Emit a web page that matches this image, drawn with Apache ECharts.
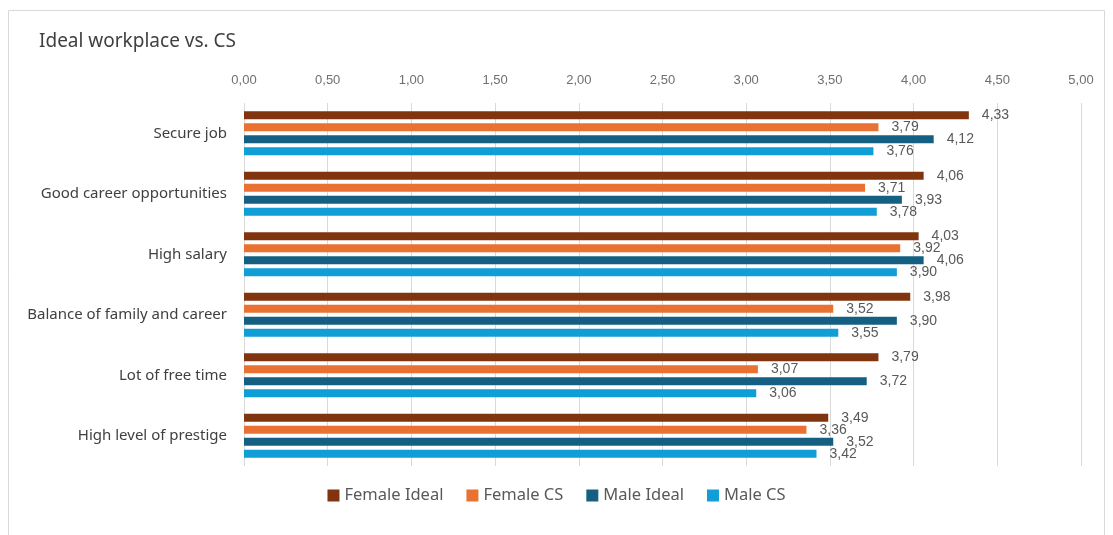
<!DOCTYPE html>
<html>
<head>
<meta charset="utf-8">
<script src="https://cdn.jsdelivr.net/npm/echarts@6/dist/echarts.min.js"></script>
<style>
  html, body { margin: 0; padding: 0; background: #ffffff; }
  #chart { width: 1113px; height: 535px; }
</style>
</head>
<body>
<div id="chart"></div>
<script>
// Survey factors, top to bottom
const categories = [
  'Secure job',
  'Good career opportunities',
  'High salary',
  'Balance of family and career',
  'Lot of free time',
  'High level of prestige'
];

// Mean ratings per group
const femaleIdeal = [4.33, 4.06, 4.03, 3.98, 3.79, 3.49];
const femaleCS    = [3.79, 3.71, 3.92, 3.52, 3.07, 3.36];
const maleIdeal   = [4.12, 3.93, 4.06, 3.90, 3.72, 3.52];
const maleCS      = [3.76, 3.78, 3.90, 3.55, 3.06, 3.42];

const seriesNames = ['Female Ideal', 'Female CS', 'Male Ideal', 'Male CS'];
const seriesColors = ['#80350E', '#E97132', '#156082', '#0F9ED5'];
const seriesData = [femaleIdeal, femaleCS, maleIdeal, maleCS];

const axisMin = 0, axisMax = 5, axisStep = 0.5;

const fmt = v => Number(v).toFixed(2).replace('.', ',');

const chart = echarts.init(document.getElementById('chart'), null, { renderer: 'canvas' });

chart.setOption({
  animation: false,
  backgroundColor: '#ffffff',
  title: {
    text: 'Ideal workplace vs. CS',
    left: 34,
    top: 27,
    textStyle: { fontFamily: 'Noto Sans', fontSize: 19, fontWeight: 'normal', color: '#404040' }
  },
  graphic: [{
    type: 'rect',
    shape: { x: 8.5, y: 10.5, width: 1096, height: 540 },
    style: { fill: 'none', stroke: '#d9d9d9', lineWidth: 1 },
    silent: true
  }],
  legend: {
    data: seriesNames,
    bottom: 26,
    left: 'center',
    itemWidth: 12,
    itemHeight: 12,
    itemGap: 23,
    icon: 'rect',
    textStyle: { fontFamily: 'Noto Sans', fontSize: 16.5, color: '#595959' }
  },
  grid: { left: 244, right: 32, top: 103, bottom: 69, containLabel: false },
  xAxis: {
    type: 'value',
    position: 'top',
    min: axisMin,
    max: axisMax,
    interval: axisStep,
    axisLine: { show: false },
    axisTick: { show: false },
    splitLine: { show: true, lineStyle: { color: '#d9d9d9', width: 1 } },
    axisLabel: {
      margin: 16,
      formatter: fmt,
      fontFamily: 'Liberation Sans',
      fontSize: 13,
      color: '#6f6f6f'
    }
  },
  yAxis: {
    type: 'category',
    data: categories,
    inverse: true,
    axisLine: { show: false },
    axisTick: { show: false },
    splitLine: { show: false },
    axisLabel: {
      margin: 17,
      fontFamily: 'Noto Sans',
      fontSize: 15,
      color: '#404040'
    }
  },
  series: seriesNames.map((name, i) => ({
    name: name,
    type: 'bar',
    data: seriesData[i],
    barWidth: 8,
    barGap: '50%',
    itemStyle: { color: seriesColors[i] },
    label: {
      show: true,
      position: 'right',
      distance: 13,
      formatter: p => fmt(p.value),
      fontFamily: 'Liberation Sans',
      fontSize: 14,
      color: '#595959'
    }
  }))
});
</script>
</body>
</html>
